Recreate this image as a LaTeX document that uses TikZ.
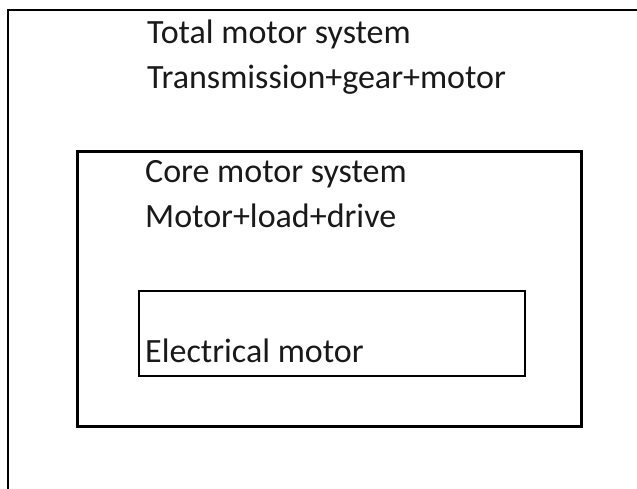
\documentclass[tikz,border=0pt]{standalone}
\usepackage{fontspec}
\setmainfont{Carlito}
\begin{document}
\begin{tikzpicture}[x=1pt,y=-1pt,
  boxline/.style={draw=black,line width=2.8pt},
  lbl/.style={anchor=base west,inner sep=0pt,font=\fontsize{34}{40}\selectfont,text=black!90}]
\useasboundingbox (0,0) rectangle (637,489);
\draw[boxline] (8,495) coordinate (ob) -- (8,10) coordinate (otl) -- (645,10) coordinate (otr);
\node[boxline,minimum width=504pt,minimum height=275pt,anchor=north west,inner sep=0pt] (core) at (76,150) {};
\node[boxline,minimum width=386pt,minimum height=85pt,anchor=north west,inner sep=0pt] (elec) at (137.5,289.5) {};
\node[lbl] (t1) at (147,44) {Total motor system};
\node[lbl] (t2) at (147,89) {Transmission+gear+motor};
\node[lbl] (c1) at (145,183) {Core motor system};
\node[lbl] (c2) at (145,227) {Motor+load+drive};
\node[lbl] (e1) at (145,362) {Electrical motor};
\end{tikzpicture}
\end{document}
